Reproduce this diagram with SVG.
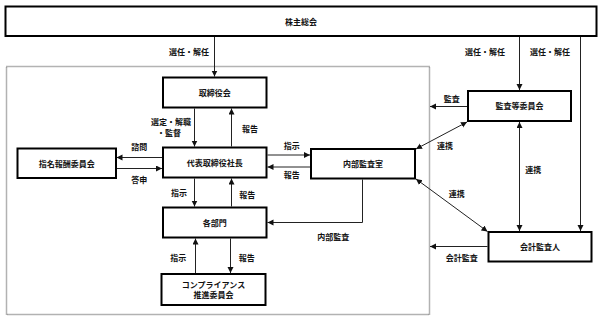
<svg xmlns="http://www.w3.org/2000/svg" width="603" height="320" viewBox="0 0 603 320">
<style>
  .box { fill: #fff; stroke: #000; stroke-width: 2; }
  .t { font-family: "Noto Sans CJK JP", "Noto Sans", sans-serif; font-size: 8px; font-weight: 700; fill: #111; text-anchor: middle; }
  .c { fill: none; stroke: #222; stroke-width: 1; }
  .ar { marker-end: url(#ah); }
  .dbl { marker-start: url(#ah); marker-end: url(#ah); }
  .frame { fill: none; stroke: #666; stroke-width: 1.5; stroke-dasharray: 1 1; }
</style>
<defs>
  <marker id="ah" markerUnits="userSpaceOnUse" markerWidth="7" markerHeight="7" refX="6" refY="3" orient="auto-start-reverse">
    <path d="M0,0 L6,3 L0,6 z" fill="#111"/>
  </marker>
</defs>
<rect width="603" height="320" fill="#fff"/>
<rect class="frame" x="6.5" y="66.5" width="423" height="248"/>

<g id="connectors">
  <line class="c ar" x1="214.5" y1="37" x2="214.5" y2="76.5"/>
  <line class="c ar" x1="519.5" y1="37" x2="519.5" y2="90"/>
  <line class="c ar" x1="580.5" y1="37" x2="580.5" y2="231"/>
  <line class="c ar" x1="194.5" y1="108.5" x2="194.5" y2="146.5"/>
  <line class="c ar" x1="231.5" y1="146.5" x2="231.5" y2="108.5"/>
  <line class="c ar" x1="194.5" y1="178.5" x2="194.5" y2="206.5"/>
  <line class="c ar" x1="231.5" y1="206.5" x2="231.5" y2="178.5"/>
  <line class="c ar" x1="195.5" y1="273" x2="195.5" y2="238.5"/>
  <line class="c ar" x1="230.5" y1="238.5" x2="230.5" y2="273"/>
  <line class="c ar" x1="162" y1="157.5" x2="116.5" y2="157.5"/>
  <line class="c ar" x1="116.5" y1="168.5" x2="162" y2="168.5"/>
  <line class="c ar" x1="267.5" y1="155" x2="310" y2="155"/>
  <line class="c ar" x1="310" y1="167" x2="267.5" y2="167"/>
  <polyline class="c ar" points="362.5,179.5 362.5,222.5 267.5,222.5"/>
  <line class="c ar" x1="467" y1="106.5" x2="430" y2="106.5"/>
  <line class="c ar" x1="487.5" y1="246.5" x2="430" y2="246.5"/>
  <line class="c dbl" x1="467" y1="122" x2="416" y2="149"/>
  <line class="c dbl" x1="416" y1="179" x2="487.5" y2="231.5"/>
  <line class="c dbl" x1="519.5" y1="122" x2="519.5" y2="231"/>
</g>

<g id="n-shareholders">
  <rect class="box" x="5.5" y="6.5" width="591" height="29.5"/>
  <text class="t" x="301" y="24.5">株主総会</text>
</g>
<g id="n-board">
  <rect class="box" x="163" y="77.5" width="103.5" height="30"/>
  <text class="t" x="214.7" y="95.5">取締役会</text>
</g>
<g id="n-president">
  <rect class="box" x="163" y="147.5" width="103.5" height="30"/>
  <text class="t" x="214.7" y="165.5">代表取締役社長</text>
</g>
<g id="n-departments">
  <rect class="box" x="163" y="207.5" width="103.5" height="30"/>
  <text class="t" x="214.7" y="225.5">各部門</text>
</g>
<g id="n-compliance">
  <rect class="box" x="161.5" y="274" width="104" height="31"/>
  <text class="t" x="213.5" y="288">コンプライアンス</text>
  <text class="t" x="213.5" y="297.5">推進委員会</text>
</g>
<g id="n-nomination">
  <rect class="box" x="17.5" y="148.5" width="98.5" height="29.5"/>
  <text class="t" x="66.7" y="166.5">指名報酬委員会</text>
</g>
<g id="n-internal-audit">
  <rect class="box" x="311" y="149" width="104" height="29.5"/>
  <text class="t" x="363" y="166.7">内部監査室</text>
</g>
<g id="n-audit-committee">
  <rect class="box" x="468" y="91" width="103" height="30"/>
  <text class="t" x="519.5" y="109">監査等委員会</text>
</g>
<g id="n-accounting-auditor">
  <rect class="box" x="488.5" y="232" width="103" height="29.5"/>
  <text class="t" x="540" y="249.7">会計監査人</text>
</g>

<g id="labels">
  <text class="t" x="189" y="55">選任・解任</text>
  <text class="t" x="485" y="55">選任・解任</text>
  <text class="t" x="550" y="55">選任・解任</text>
  <text class="t" x="451.7" y="101.5">監査</text>
  <text class="t" x="171" y="125">選定・解職</text>
  <text class="t" x="169" y="135.7">・監督</text>
  <text class="t" x="250" y="131.7">報告</text>
  <text class="t" x="139.3" y="150">諮問</text>
  <text class="t" x="139.3" y="182.7">答申</text>
  <text class="t" x="291.7" y="149">指示</text>
  <text class="t" x="291.7" y="178.3">報告</text>
  <text class="t" x="179" y="196">指示</text>
  <text class="t" x="247.3" y="198.3">報告</text>
  <text class="t" x="178.3" y="261.3">指示</text>
  <text class="t" x="246.7" y="261.3">報告</text>
  <text class="t" x="445" y="149.3">連携</text>
  <text class="t" x="456.7" y="196.7">連携</text>
  <text class="t" x="533.3" y="172.7">連携</text>
  <text class="t" x="333.3" y="240.3">内部監査</text>
  <text class="t" x="461.7" y="261.3">会計監査</text>
</g>
</svg>
